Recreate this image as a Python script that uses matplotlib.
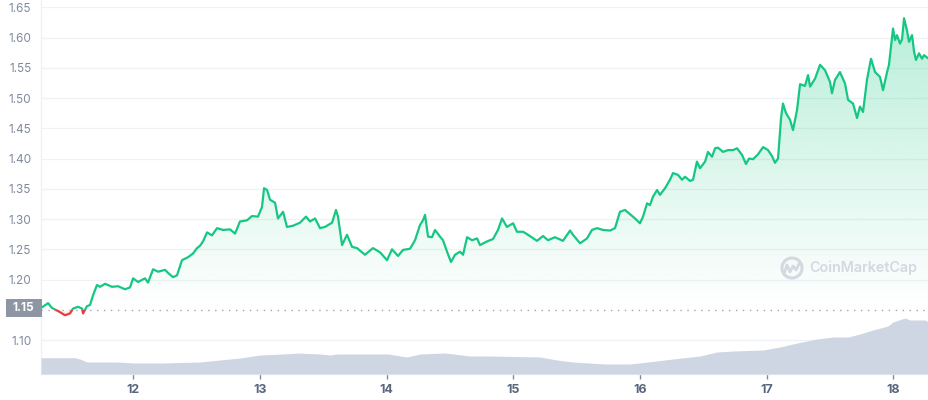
import matplotlib
matplotlib.use("Agg")
import matplotlib.pyplot as plt
import numpy as np
from matplotlib.patches import Rectangle, PathPatch, Circle
from matplotlib.path import Path
from matplotlib.transforms import blended_transform_factory

plt.rcParams['font.family'] = ['Inter', 'DejaVu Sans']

# ---- data (time in fractional day-of-month) ----
t = [11.271, 11.327, 11.358, 11.406, 11.461, 11.500, 11.524, 11.563, 11.595, 11.603,
     11.634, 11.658, 11.682, 11.713, 11.737, 11.777, 11.832, 11.879, 11.934, 11.974,
     11.998, 12.037, 12.092, 12.116, 12.156, 12.195, 12.250, 12.274, 12.313, 12.345,
     12.384, 12.432, 12.471, 12.503, 12.527, 12.550, 12.582, 12.621, 12.661, 12.708,
     12.763, 12.803, 12.842, 12.898, 12.937, 12.984, 13.016, 13.032, 13.056, 13.079,
     13.119, 13.142, 13.182, 13.213, 13.261, 13.316, 13.363, 13.395, 13.435, 13.474,
     13.513, 13.569, 13.600, 13.616, 13.648, 13.687, 13.727, 13.766, 13.829, 13.892,
     13.948, 14.003, 14.042, 14.090, 14.129, 14.185, 14.224, 14.263, 14.287, 14.303,
     14.327, 14.358, 14.382, 14.421, 14.445, 14.477, 14.508, 14.540, 14.579, 14.603,
     14.635, 14.674, 14.714, 14.737, 14.792, 14.840, 14.879, 14.911, 14.950, 14.998,
     15.029, 15.077, 15.116, 15.187, 15.235, 15.274, 15.329, 15.392, 15.448, 15.471,
     15.527, 15.582, 15.621, 15.661, 15.708, 15.764, 15.803, 15.842, 15.882, 15.921,
     15.961, 16.000, 16.024, 16.056, 16.079, 16.103, 16.135, 16.158, 16.198, 16.237,
     16.261, 16.300, 16.332, 16.356, 16.395, 16.419, 16.450, 16.474, 16.514, 16.537,
     16.569, 16.593, 16.616, 16.656, 16.695, 16.735, 16.766, 16.806, 16.837, 16.861,
     16.893, 16.932, 16.972, 17.011, 17.043, 17.066, 17.090, 17.114, 17.129, 17.153,
     17.185, 17.208, 17.240, 17.264, 17.303, 17.327, 17.343, 17.382, 17.422, 17.461,
     17.500, 17.516, 17.540, 17.579, 17.619, 17.643, 17.682, 17.714, 17.737, 17.761,
     17.793, 17.824, 17.856, 17.895, 17.919, 17.951, 17.966, 17.998, 18.014, 18.029,
     18.053, 18.069, 18.085, 18.108, 18.124, 18.148, 18.164, 18.179, 18.203, 18.227,
     18.243, 18.266, 18.282]

price = [1.153, 1.161, 1.153, 1.148, 1.141, 1.144, 1.152, 1.155, 1.152, 1.144,
         1.156, 1.158, 1.174, 1.191, 1.188, 1.193, 1.188, 1.189, 1.184, 1.187,
         1.202, 1.196, 1.202, 1.195, 1.217, 1.213, 1.216, 1.211, 1.204, 1.207,
         1.232, 1.237, 1.243, 1.252, 1.256, 1.263, 1.278, 1.273, 1.285, 1.282,
         1.283, 1.276, 1.296, 1.298, 1.305, 1.304, 1.320, 1.351, 1.348, 1.332,
         1.327, 1.301, 1.312, 1.287, 1.289, 1.294, 1.304, 1.296, 1.301, 1.285,
         1.287, 1.294, 1.315, 1.304, 1.257, 1.274, 1.254, 1.252, 1.241, 1.252,
         1.245, 1.232, 1.250, 1.239, 1.249, 1.251, 1.265, 1.290, 1.298, 1.307,
         1.271, 1.270, 1.282, 1.271, 1.265, 1.246, 1.229, 1.241, 1.246, 1.241,
         1.270, 1.265, 1.268, 1.257, 1.263, 1.267, 1.282, 1.301, 1.287, 1.293,
         1.279, 1.279, 1.274, 1.264, 1.272, 1.265, 1.270, 1.264, 1.281, 1.274,
         1.260, 1.268, 1.282, 1.285, 1.282, 1.281, 1.285, 1.312, 1.315, 1.308,
         1.301, 1.293, 1.304, 1.326, 1.323, 1.337, 1.348, 1.340, 1.351, 1.365,
         1.376, 1.373, 1.365, 1.370, 1.363, 1.365, 1.395, 1.384, 1.395, 1.411,
         1.403, 1.417, 1.418, 1.411, 1.414, 1.414, 1.417, 1.406, 1.391, 1.400,
         1.399, 1.407, 1.419, 1.414, 1.404, 1.393, 1.400, 1.467, 1.491, 1.475,
         1.464, 1.447, 1.480, 1.523, 1.520, 1.538, 1.519, 1.532, 1.555, 1.546,
         1.527, 1.508, 1.530, 1.543, 1.524, 1.497, 1.491, 1.467, 1.486, 1.477,
         1.531, 1.565, 1.543, 1.535, 1.513, 1.543, 1.555, 1.615, 1.596, 1.604,
         1.590, 1.597, 1.632, 1.612, 1.593, 1.604, 1.577, 1.563, 1.574, 1.565,
         1.571, 1.567, 1.565]

vol_t = [11.271, 11.539, 11.579, 11.634, 11.871, 12.013, 12.211, 12.527, 12.842, 13.000,
         13.182, 13.300, 13.474, 13.553, 13.608, 14.011, 14.161, 14.263, 14.461, 14.658,
         14.816, 15.211, 15.345, 15.471, 15.724, 15.921, 16.063, 16.261, 16.474, 16.608,
         16.735, 16.972, 17.106, 17.240, 17.398, 17.524, 17.643, 17.737, 17.840, 17.958,
         17.998, 18.093, 18.132, 18.251, 18.282]
volume = [16.3, 16.3, 15, 12, 12, 11, 11, 12, 16, 19,
          20, 21, 20, 19, 20, 20, 17, 20, 21, 18,
          18, 17, 14, 12, 10, 10, 12, 15, 18, 22,
          23, 24, 27, 31, 35, 37, 37, 40, 44, 48,
          52, 56, 54, 54, 52]

base_price = 1.15
y_ticks = [1.10, 1.20, 1.25, 1.30, 1.35, 1.40, 1.45, 1.50, 1.55, 1.60, 1.65]
x_ticks = [12, 13, 14, 15, 16, 17, 18]

GREEN = '#16c784'
RED = '#ea3943'

W, H = 929, 400
fig = plt.figure(figsize=(W / 100, H / 100), dpi=100)
ax = fig.add_axes([41 / W, 26 / H, 888 / W, 374 / H])

xmin, xmax = t[0], t[-1]
ymin, ymax = 1.0439, 1.6621

# grid
for yv in y_ticks:
    ax.axhline(yv, color='#eff2f5', lw=0.9, zorder=0)

# gradient fill
verts = [(t[0], base_price)] + list(zip(t, price)) + [(t[-1], base_price), (t[0], base_price)]
codes = [Path.MOVETO] + [Path.LINETO] * (len(verts) - 2) + [Path.CLOSEPOLY]
clip = PathPatch(Path(verts, codes), facecolor='none', edgecolor='none')
ax.add_patch(clip)
pmax = max(price)
n = 256
g = np.zeros((n, 1, 4))
rgb = matplotlib.colors.to_rgb(GREEN)
g[:, 0, 0], g[:, 0, 1], g[:, 0, 2] = rgb
g[:, 0, 3] = np.linspace(0.30, 0.0, n)
im = ax.imshow(g, extent=[xmin, xmax, base_price, pmax], origin='upper', aspect='auto', zorder=1)
im.set_clip_path(clip)
gr = np.zeros((n, 1, 4))
rgbr = matplotlib.colors.to_rgb(RED)
gr[:, 0, 0], gr[:, 0, 1], gr[:, 0, 2] = rgbr
gr[:, 0, 3] = np.linspace(0.0, 0.15, n)
im2 = ax.imshow(gr, extent=[xmin, xmax, min(price), base_price], origin='upper', aspect='auto', zorder=1)
im2.set_clip_path(clip)

# baseline dotted
ax.axhline(base_price, color='#a1a7b3', lw=1.0, ls=(0, (1, 4)), zorder=2)

# line
lg, = ax.plot(t, price, color=GREEN, lw=1.6, zorder=4, solid_joinstyle='round')
lr, = ax.plot(t, price, color=RED, lw=1.6, zorder=4, solid_joinstyle='round')
rect_up = Rectangle((xmin - 1, base_price), (xmax - xmin) + 2, 1.0, transform=ax.transData)
rect_dn = Rectangle((xmin - 1, base_price - 1.0), (xmax - xmin) + 2, 1.0, transform=ax.transData)
lg.set_clip_path(rect_up)
lr.set_clip_path(rect_dn)

ax.set_xlim(xmin, xmax)
ax.set_ylim(ymin, ymax)

# volume
ax2 = ax.twinx()
ax2.fill_between(vol_t, volume, 0, color='#cfd6e3', lw=0, zorder=1)
ax2.set_ylim(0, max(volume) * 374 / 56)
ax2.set_xlim(xmin, xmax)
ax2.set_yticks([])
for s in ax2.spines.values():
    s.set_visible(False)

# axes styling
ax.set_yticks(y_ticks)
ax.set_yticklabels([f'{v:.2f}' for v in y_ticks])
ax.set_xticks(x_ticks)
ax.set_xticklabels([str(v) for v in x_ticks])
ax.tick_params(axis='y', length=0, pad=7, labelsize=8.5, labelcolor='#808a9d')
ax.tick_params(axis='x', length=3.5, width=1, color='#808a9d', pad=4, labelsize=9, labelcolor='#58667e')
for lbl in ax.get_xticklabels():
    lbl.set_fontweight('bold')
for s in ['top', 'right']:
    ax.spines[s].set_visible(False)
ax.spines['left'].set_color('#eff2f5')
ax.spines['bottom'].set_color('#eff2f5')
ax.spines['left'].set_linewidth(1)
ax.spines['bottom'].set_linewidth(1)
ax.set_zorder(1)
ax2.set_zorder(2)

# baseline label box
bt = blended_transform_factory(ax.transAxes, ax.transData)
box = Rectangle((-35 / 888, 1.1376), 35.5 / 888, 0.0298, transform=bt, facecolor='#8e96a3',
                edgecolor='none', clip_on=False, zorder=10)
ax.add_patch(box)
ax.text(-17.5 / 888, 1.1525, '1.15', transform=bt, ha='center', va='center', color='white',
        fontsize=8.5, fontweight='bold', zorder=11, clip_on=False)

# watermark
fig.patches.append(Circle((792, 132), 10, transform=None, fill=False, edgecolor='#d3d8e1', lw=2.2))
wx = [784, 787, 790, 793, 796, 799]
wy = [126, 135, 128, 134, 130, 136]
fig.lines.append(matplotlib.lines.Line2D(wx, wy, transform=None, color='#d3d8e1', lw=2.0))
fig.text(809, 132, 'CoinMarketCap', transform=None, ha='left', va='center', fontsize=10.3,
         fontweight='semibold', color='#d3d8e1')

fig.savefig('out.png', dpi=100)
